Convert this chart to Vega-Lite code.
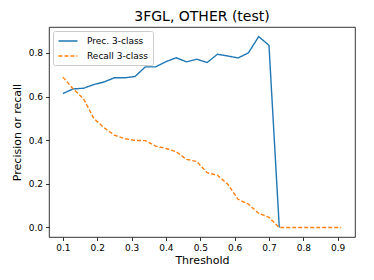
{
  "$schema": "https://vega.github.io/schema/vega-lite/v6.json",
  "autosize": "none",
  "width": 306,
  "height": 210,
  "padding": {"left": 49, "top": 27, "right": 19, "bottom": 43},
  "background": "white",
  "title": {"text": "3FGL, OTHER (test)", "font": "DejaVu Sans", "fontSize": 14, "fontWeight": "normal", "color": "black", "offset": 3, "anchor": "middle"},
  "config": {
    "view": {"stroke": "black", "strokeWidth": 0.8},
    "axis": {"grid": false, "domain": false, "tickColor": "black", "tickSize": 3.5, "tickWidth": 0.8, "labelFont": "DejaVu Sans", "labelFontSize": 9, "labelColor": "black", "titleFont": "DejaVu Sans", "titleFontSize": 11, "titleFontWeight": "normal", "titleColor": "black", "labelPadding": 3}
  },
  "datasets": {
    "d": [
      {"threshold": 0.10, "series": "Prec. 3-class", "value": 0.614},
      {"threshold": 0.13, "series": "Prec. 3-class", "value": 0.635},
      {"threshold": 0.16, "series": "Prec. 3-class", "value": 0.638},
      {"threshold": 0.19, "series": "Prec. 3-class", "value": 0.655},
      {"threshold": 0.22, "series": "Prec. 3-class", "value": 0.667},
      {"threshold": 0.25, "series": "Prec. 3-class", "value": 0.686},
      {"threshold": 0.28, "series": "Prec. 3-class", "value": 0.686},
      {"threshold": 0.31, "series": "Prec. 3-class", "value": 0.692},
      {"threshold": 0.34, "series": "Prec. 3-class", "value": 0.736},
      {"threshold": 0.37, "series": "Prec. 3-class", "value": 0.736},
      {"threshold": 0.40, "series": "Prec. 3-class", "value": 0.760},
      {"threshold": 0.43, "series": "Prec. 3-class", "value": 0.778},
      {"threshold": 0.46, "series": "Prec. 3-class", "value": 0.759},
      {"threshold": 0.49, "series": "Prec. 3-class", "value": 0.771},
      {"threshold": 0.52, "series": "Prec. 3-class", "value": 0.756},
      {"threshold": 0.55, "series": "Prec. 3-class", "value": 0.794},
      {"threshold": 0.58, "series": "Prec. 3-class", "value": 0.786},
      {"threshold": 0.61, "series": "Prec. 3-class", "value": 0.777},
      {"threshold": 0.64, "series": "Prec. 3-class", "value": 0.800},
      {"threshold": 0.67, "series": "Prec. 3-class", "value": 0.875},
      {"threshold": 0.70, "series": "Prec. 3-class", "value": 0.835},
      {"threshold": 0.73, "series": "Prec. 3-class", "value": 0.0},
      {"threshold": 0.10, "series": "Recall 3-class", "value": 0.689},
      {"threshold": 0.13, "series": "Recall 3-class", "value": 0.635},
      {"threshold": 0.16, "series": "Recall 3-class", "value": 0.590},
      {"threshold": 0.19, "series": "Recall 3-class", "value": 0.500},
      {"threshold": 0.22, "series": "Recall 3-class", "value": 0.457},
      {"threshold": 0.25, "series": "Recall 3-class", "value": 0.423},
      {"threshold": 0.28, "series": "Recall 3-class", "value": 0.407},
      {"threshold": 0.31, "series": "Recall 3-class", "value": 0.399},
      {"threshold": 0.34, "series": "Recall 3-class", "value": 0.398},
      {"threshold": 0.37, "series": "Recall 3-class", "value": 0.373},
      {"threshold": 0.40, "series": "Recall 3-class", "value": 0.362},
      {"threshold": 0.43, "series": "Recall 3-class", "value": 0.347},
      {"threshold": 0.46, "series": "Recall 3-class", "value": 0.312},
      {"threshold": 0.49, "series": "Recall 3-class", "value": 0.302},
      {"threshold": 0.52, "series": "Recall 3-class", "value": 0.251},
      {"threshold": 0.55, "series": "Recall 3-class", "value": 0.239},
      {"threshold": 0.58, "series": "Recall 3-class", "value": 0.198},
      {"threshold": 0.61, "series": "Recall 3-class", "value": 0.129},
      {"threshold": 0.64, "series": "Recall 3-class", "value": 0.107},
      {"threshold": 0.67, "series": "Recall 3-class", "value": 0.065},
      {"threshold": 0.70, "series": "Recall 3-class", "value": 0.046},
      {"threshold": 0.73, "series": "Recall 3-class", "value": 0.0},
      {"threshold": 0.76, "series": "Recall 3-class", "value": 0.0},
      {"threshold": 0.79, "series": "Recall 3-class", "value": 0.0},
      {"threshold": 0.82, "series": "Recall 3-class", "value": 0.0},
      {"threshold": 0.85, "series": "Recall 3-class", "value": 0.0},
      {"threshold": 0.88, "series": "Recall 3-class", "value": 0.0},
      {"threshold": 0.91, "series": "Recall 3-class", "value": 0.0}
    ]
  },
  "data": {"name": "d"},
  "mark": {"type": "line", "strokeWidth": 1.4, "clip": true},
  "encoding": {
    "x": {"field": "threshold", "type": "quantitative", "title": "Threshold",
          "scale": {"domain": [0.0595, 0.9505], "nice": false, "zero": false},
          "axis": {"values": [0.1, 0.2, 0.3, 0.4, 0.5, 0.6, 0.7, 0.8, 0.9], "format": ".1f", "titlePadding": 2}},
    "y": {"field": "value", "type": "quantitative", "title": "Precision or recall",
          "scale": {"domain": [-0.0438, 0.9188], "nice": false, "zero": false},
          "axis": {"values": [0, 0.2, 0.4, 0.6, 0.8], "format": ".1f", "titlePadding": 6}},
    "color": {"field": "series", "type": "nominal", "title": null,
              "scale": {"domain": ["Prec. 3-class", "Recall 3-class"], "range": ["#1f77b4", "#ff7f0e"]},
              "legend": {"orient": "top-left", "offset": 4, "padding": 4, "strokeColor": "#cccccc", "fillColor": "white", "cornerRadius": 2,
                         "labelFont": "DejaVu Sans", "labelFontSize": 9, "labelColor": "black", "symbolType": "M-1.9,0H1.9", "symbolSize": 100, "symbolStrokeWidth": 1.4, "symbolOffset": 5, "rowPadding": 4, "labelOffset": 13}},
    "strokeDash": {"field": "series", "type": "nominal", "title": null,
                   "scale": {"domain": ["Prec. 3-class", "Recall 3-class"], "range": [[1, 0], [4, 2]]}}
  }
}
